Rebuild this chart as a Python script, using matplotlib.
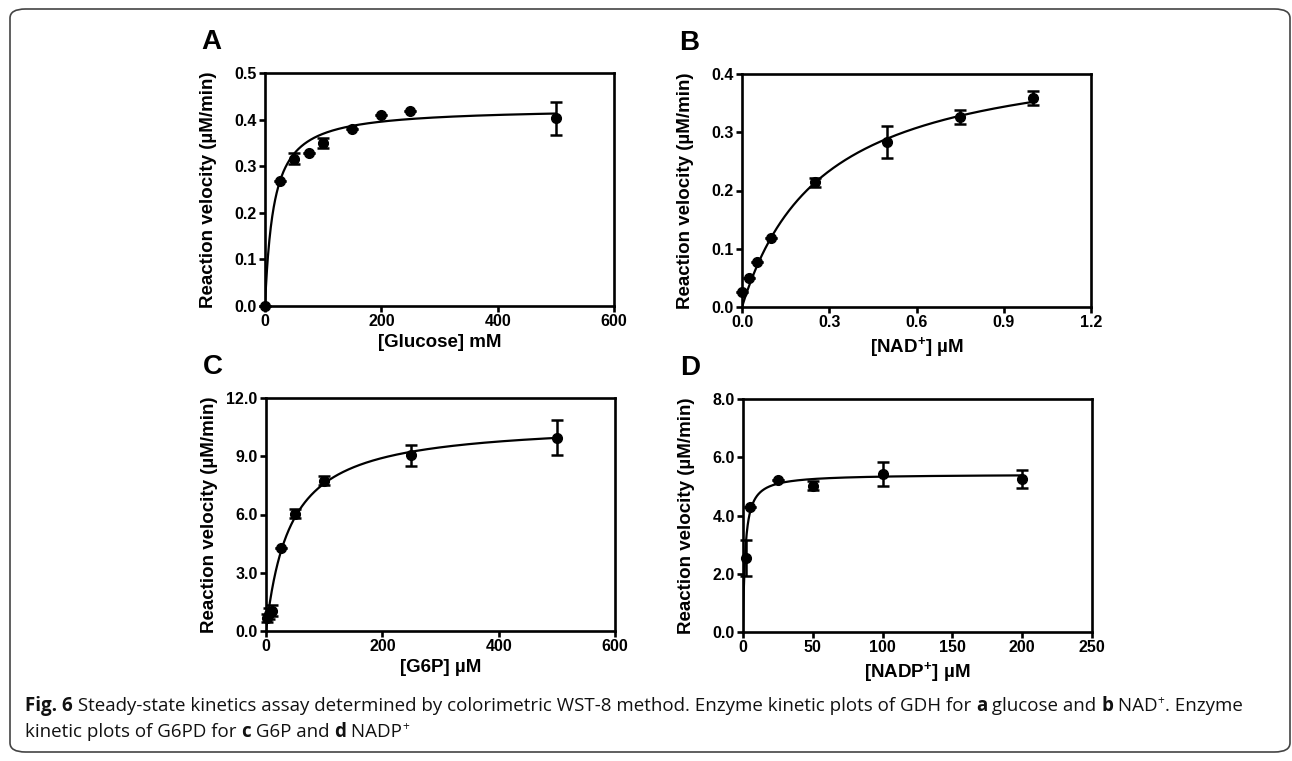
import numpy as np
import matplotlib
matplotlib.use('Agg')
import matplotlib.pyplot as plt
from matplotlib.font_manager import FontProperties
from matplotlib.patches import FancyBboxPatch

glucose_x = [0, 25, 50, 75, 100, 150, 200, 250, 500]
glucose_y = [0.0, 0.268, 0.316, 0.328, 0.350, 0.379, 0.409, 0.418, 0.403]
glucose_err = [0, 0, 0.012, 0, 0.010, 0, 0, 0, 0.035]

nad_x = [0, 0.025, 0.05, 0.1, 0.25, 0.5, 0.75, 1.0]
nad_y = [0.025, 0.050, 0.077, 0.119, 0.214, 0.283, 0.326, 0.358]
nad_err = [0, 0, 0, 0, 0.008, 0.027, 0.012, 0.012]

g6p_x = [2.5, 5, 10, 25, 50, 100, 250, 500]
g6p_y = [0.65, 0.90, 1.05, 4.30, 6.05, 7.75, 9.05, 9.95]
g6p_err = [0.2, 0.3, 0.3, 0, 0.25, 0.25, 0.55, 0.90]

nadp_x = [2.5, 5, 25, 50, 100, 200]
nadp_y = [2.55, 4.30, 5.22, 5.03, 5.42, 5.25]
nadp_err = [0.62, 0, 0, 0.15, 0.42, 0.32]

# Michaelis-Menten Parameter (Vmax, Km) der eingezeichneten Kurven
fit_glucose = (0.4255, 15.1)
fit_nad = (0.45, 0.278)
fit_g6p = (10.78, 41.9)
fit_nadp = (5.42, 1.6)

plt.rcParams['font.family'] = ['Liberation Sans', 'DejaVu Sans']
plt.rcParams['font.weight'] = 'bold'
plt.rcParams['mathtext.fontset'] = 'custom'
plt.rcParams['mathtext.rm'] = 'Liberation Sans:bold'
plt.rcParams['mathtext.bf'] = 'Liberation Sans:bold'

W, H = 1292, 761
fig = plt.figure(figsize=(W / 100, H / 100), dpi=100, facecolor='white')


def panel(rect, xs, ys, errs, fit, xlim, xticks, xfmt, ylim, yticks, yfmt, xlabel, letter):
    ax = fig.add_axes(rect)
    vmax, km = fit
    xx = np.linspace(0, max(xs), 600)
    ax.plot(xx, vmax * xx / (km + xx), color='black', lw=1.6, zorder=2)
    ax.errorbar(xs, ys, yerr=errs, fmt='o', color='black', ms=7,
                elinewidth=1.8, capsize=4, capthick=1.8, zorder=3, clip_on=False)
    ax.set_xlim(xlim)
    ax.set_ylim(ylim)
    ax.set_xticks(xticks)
    ax.set_xticklabels([xfmt.format(v) for v in xticks])
    ax.set_yticks(yticks)
    ax.set_yticklabels([yfmt.format(v) for v in yticks])
    for s in ax.spines.values():
        s.set_linewidth(1.9)
    ax.tick_params(direction='out', length=4, width=1.9, labelsize=11.5, pad=2)
    ax.set_ylabel('Reaction velocity (µM/min)', fontsize=13.5, fontweight='bold')
    ax.yaxis.set_label_coords(-0.138, 0.5)
    ax.set_xlabel(xlabel, fontsize=13.5, fontweight='bold')
    ax.xaxis.set_label_coords(0.5, -0.122)
    fig.text(rect[0] - 0.049, rect[1] + rect[3] + 0.041, letter, fontsize=20,
             fontweight='bold', ha='left', va='center')
    return ax


aw, ah = 349 / W, 233 / H
panel([265 / W, 1 - 306 / H, aw, ah], glucose_x, glucose_y, glucose_err, fit_glucose,
      (0, 600), [0, 200, 400, 600], '{:.0f}', (0, 0.5), [0, 0.1, 0.2, 0.3, 0.4, 0.5], '{:.1f}',
      '[Glucose] mM', 'A')
panel([742 / W, 1 - 307 / H, aw, ah], nad_x, nad_y, nad_err, fit_nad,
      (0, 1.2), [0, 0.3, 0.6, 0.9, 1.2], '{:.1f}', (0, 0.4), [0, 0.1, 0.2, 0.3, 0.4], '{:.1f}',
      r'[NAD$^{+}$] µM', 'B')
panel([266 / W, 1 - 631 / H, aw, ah], g6p_x, g6p_y, g6p_err, fit_g6p,
      (0, 600), [0, 200, 400, 600], '{:.0f}', (0, 12), [0, 3, 6, 9, 12], '{:.1f}',
      '[G6P] µM', 'C')
panel([743 / W, 1 - 632 / H, aw, ah], nadp_x, nadp_y, nadp_err, fit_nadp,
      (0, 250), [0, 50, 100, 150, 200, 250], '{:.0f}', (0, 8), [0, 2, 4, 6, 8], '{:.1f}',
      r'[NADP$^{+}$] µM', 'D')

# Rahmen um die Abbildung
rahmen = FancyBboxPatch((10 / W, 9 / H), 1280 / W, 743 / H,
                        boxstyle='round,pad=0,rounding_size=0.012',
                        transform=fig.transFigure, fill=False, ec='#444444', lw=1.2)
fig.patches.append(rahmen)

# Bildunterschrift
cap_font = ['Open Sans', 'DejaVu Sans']
cap_size = 13.5
renderer = fig.canvas.get_renderer()


def zeile(teile, x, y):
    for text, stil in teile:
        size = cap_size
        dy = 0
        weight = 'normal'
        if stil == 'b':
            weight = 'bold'
        if stil == 'sup':
            size = cap_size * 0.65
            dy = 7
        fp = FontProperties(family=cap_font, size=size, weight=weight)
        t = fig.text(x / W, 1 - (y - dy) / H, text, fontproperties=fp, va='baseline',
                     ha='left', color='#111111')
        x += t.get_window_extent(renderer=renderer).width


zeile([('Fig. 6', 'b'),
       (' Steady-state kinetics assay determined by colorimetric WST-8 method. Enzyme kinetic plots of GDH for ', 'n'),
       ('a', 'b'), (' glucose and ', 'n'), ('b', 'b'), (' NAD', 'n'), ('+', 'sup'),
       ('. Enzyme', 'n')], 25, 711)
zeile([('kinetic plots of G6PD for ', 'n'), ('c', 'b'), (' G6P and ', 'n'),
       ('d', 'b'), (' NADP', 'n'), ('+', 'sup')], 25, 737)

fig.savefig('out.png', dpi=100, facecolor='white')
